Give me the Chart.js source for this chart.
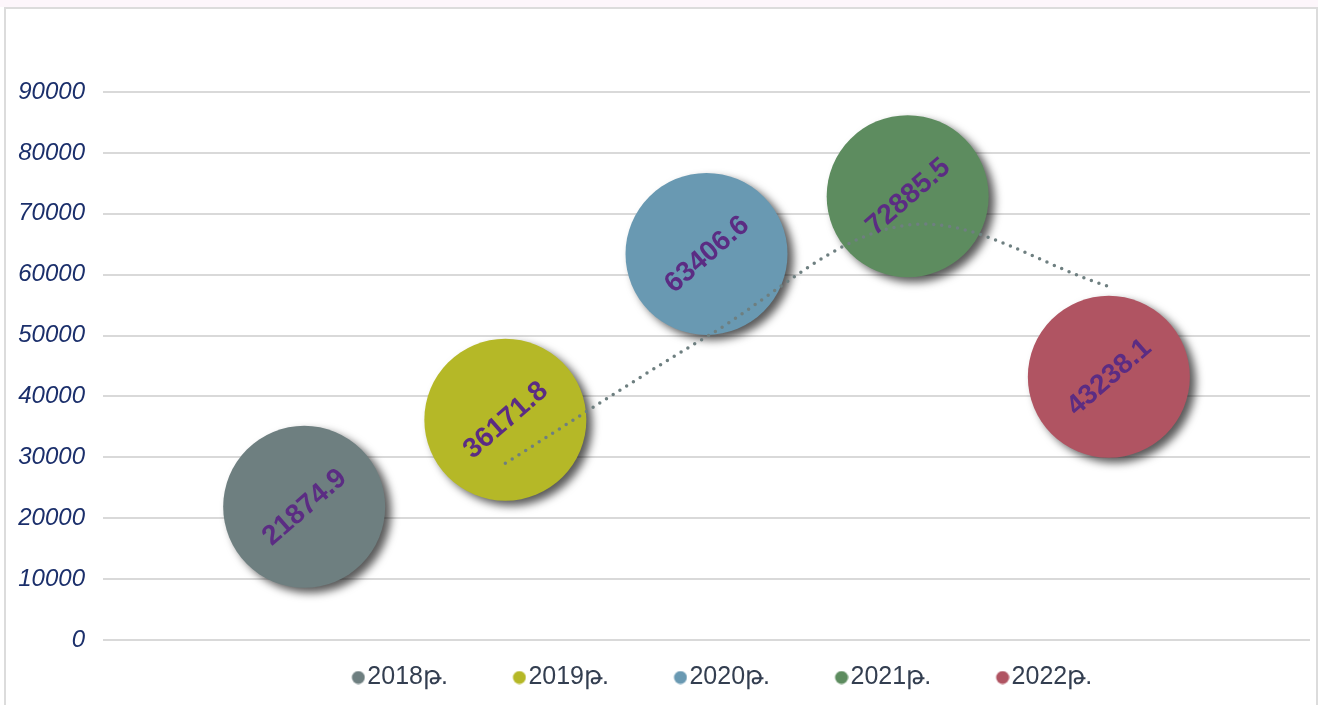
<!DOCTYPE html>
<html>
<head>
<meta charset="utf-8">
<script src="https://cdn.jsdelivr.net/npm/chart.js@4.4.1/dist/chart.umd.min.js"></script>
<style>
  html, body { margin: 0; padding: 0; background: #ffffff; }
  #strip { position: absolute; left: 0; top: 0; width: 1318px; height: 7px; background: #fdf6fb; }
  #frame { position: absolute; left: 4px; top: 7px; width: 1310px; height: 710px; border: 2px solid #dcdcdc; }
  #wrap { position: absolute; left: 0; top: 0; width: 1318px; height: 705px; }
</style>
</head>
<body>
<div id="strip"></div>
<div id="frame"></div>
<div id="wrap"><canvas id="grafico"></canvas></div>
<script>
// datos
var years = ['2018թ.', '2019թ.', '2020թ.', '2021թ.', '2022թ.'];
var values = [21874.9, 36171.8, 63406.6, 72885.5, 43238.1];
var trend = [null, 29023.4, 49789.2, 68146.1, 58061.8]; // linea punteada (media movil)
var colors = ['#6e7f80', '#b5b827', '#6999b2', '#5d8c5f', '#b05462'];
var yTicks = [0, 10000, 20000, 30000, 40000, 50000, 60000, 70000, 80000, 90000];

// punto de la leyenda (circulo desplazado a la derecha)
function marker(color) {
    var cv = document.createElement('canvas');
    cv.width = 34;
    cv.height = 14;
    var c = cv.getContext('2d');
    c.fillStyle = color;
    c.beginPath();
    c.arc(27, 7, 6.5, 0, Math.PI * 2);
    c.fill();
    return cv;
}

document.addEventListener("DOMContentLoaded", function() {

    var datasets = years.map(function(y, i) {
        return {
            type: 'bubble',
            label: y,
            data: [{x: i + 1, y: values[i]}],
            backgroundColor: colors[i],
            borderColor: colors[i],
            borderWidth: 0,
            radius: 81,
            hoverRadius: 0,
            order: 2,
            clip: false
        };
    });

    datasets.push({
        type: 'line',
        label: 'trend',
        data: trend.map(function(v, i) { return {x: i + 1, y: v}; }),
        borderColor: '#6e7f80',
        borderWidth: 3.5,
        borderDash: [0, 8],
        borderCapStyle: 'round',
        pointRadius: 0,
        fill: false,
        tension: 0.35,
        order: 1
    });

    // sombra de las burbujas
    var shadowPlugin = {
        id: 'sombra',
        beforeDatasetDraw: function(chart, args) {
            if (chart.data.datasets[args.index].type !== 'bubble') return;
            var c = chart.ctx;
            c.save();
            c.shadowColor = 'rgba(0,0,0,0.65)';
            c.shadowBlur = 8;
            c.shadowOffsetX = 6;
            c.shadowOffsetY = 5;
        },
        afterDatasetDraw: function(chart, args) {
            if (chart.data.datasets[args.index].type !== 'bubble') return;
            chart.ctx.restore();
        }
    };

    // etiquetas giradas
    var labelPlugin = {
        id: 'etiquetas',
        afterDatasetsDraw: function(chart) {
            var c = chart.ctx;
            chart.data.datasets.forEach(function(ds, i) {
                if (ds.type !== 'bubble') return;
                var pt = chart.getDatasetMeta(i).data[0];
                c.save();
                c.translate(pt.x, pt.y);
                c.rotate(-41 * Math.PI / 180);
                c.font = 'bold 28px "Liberation Sans", Arial, sans-serif';
                c.fillStyle = '#5b2c83';
                c.textAlign = 'center';
                c.textBaseline = 'middle';
                c.fillText(String(ds.data[0].y), 0, 1);
                c.restore();
            });
        }
    };

    // colocar la leyenda
    var legendShift = {
        id: 'legendShift',
        afterLayout: function(chart) {
            var lg = chart.legend;
            lg.left += 62;
            lg.right += 62;
            var h = lg.bottom - lg.top;
            lg.top = 610;
            lg.bottom = 610 + h;
        }
    };

    var ctx = document.getElementById("grafico").getContext('2d');
    var migrafica = new Chart(ctx, {
        type: 'bubble',
        data: { datasets: datasets },
        plugins: [shadowPlugin, labelPlugin, legendShift],
        options: {
            responsive: true,
            maintainAspectRatio: false,
            animation: false,
            layout: { autoPadding: false, padding: { top: 92, right: 8, left: 0, bottom: -29 } },
            plugins: {
                tooltip: { enabled: false },
                legend: {
                    position: 'bottom',
                    labels: {
                        usePointStyle: true,
                        pointStyleWidth: 13,
                        boxHeight: 9,
                        padding: 55,
                        color: '#333e50',
                        font: { family: '"Liberation Sans", Arial, sans-serif', size: 25 },
                        filter: function(item) { return item.text !== 'trend'; },
                        generateLabels: function(chart) {
                            var items = Chart.defaults.plugins.legend.labels.generateLabels(chart);
                            items.forEach(function(it) {
                                if (it.datasetIndex < colors.length) it.pointStyle = marker(colors[it.datasetIndex]);
                            });
                            return items;
                        }
                    }
                }
            },
            scales: {
                x: {
                    type: 'linear',
                    min: 0,
                    max: 6,
                    grid: { display: false },
                    border: { display: false },
                    ticks: { display: false },
                    afterFit: function(s) { s.height = 4; }
                },
                y: {
                    min: 0,
                    max: 90000,
                    afterFit: function(s) { s.width = 103; },
                    afterBuildTicks: function(s) { s.ticks = yTicks.map(function(v) { return {value: v}; }); },
                    grid: { color: '#d9d9d9', lineWidth: 2, drawTicks: false },
                    border: { display: false },
                    ticks: {
                        padding: 18,
                        color: '#1b2f6b',
                        font: { family: '"Liberation Sans", Arial, sans-serif', size: 24, style: 'italic' },
                        callback: function(v) { return String(v); }
                    }
                }
            }
        }
    });
});
</script>
</body>
</html>
